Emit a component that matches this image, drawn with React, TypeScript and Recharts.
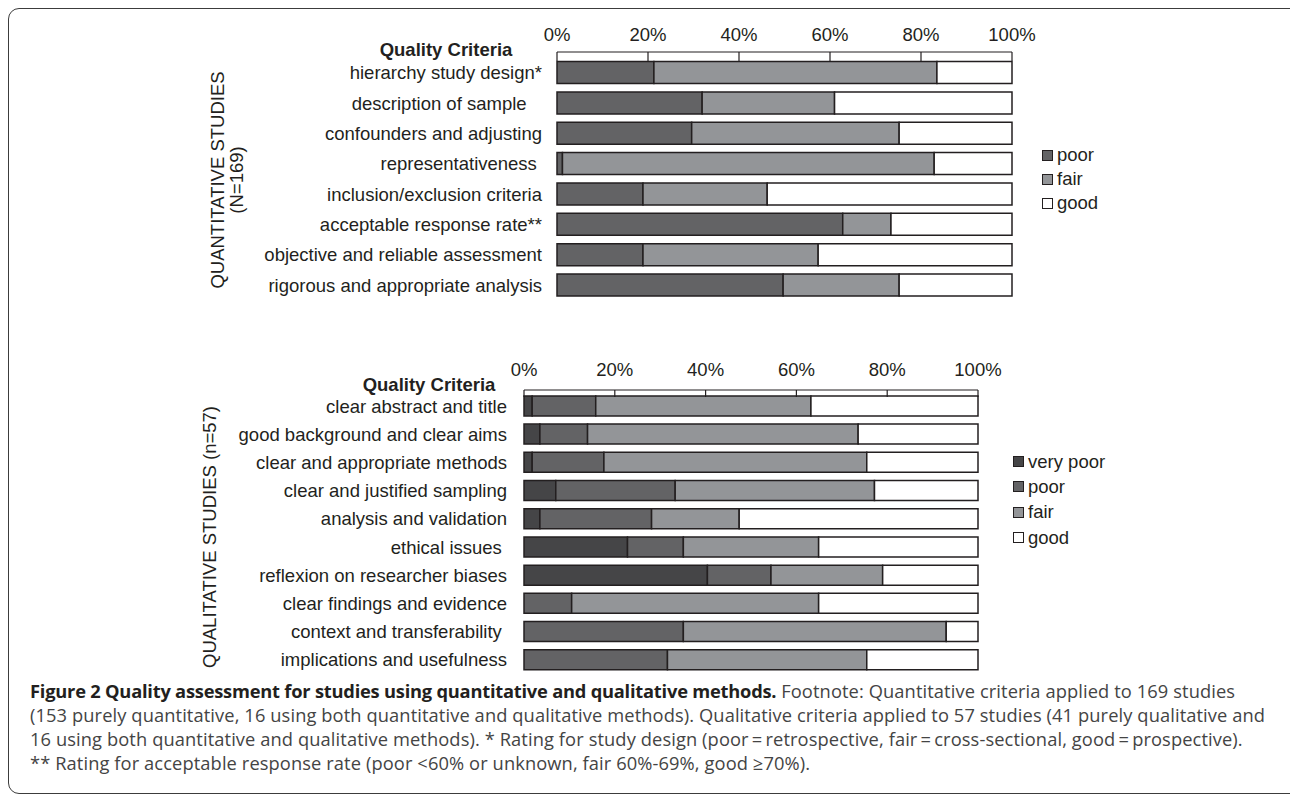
import { BarChart, Bar, XAxis, YAxis, Legend } from "recharts";

// colours
const VERY_POOR = "#454547";
const POOR = "#636365";
const FAIR = "#939598";
const GOOD = "#ffffff";
const INK = "#231f20";
const CHART_FONT = '"Liberation Sans", Arial, sans-serif';
const CAPTION_FONT = '"Open Sans", "Noto Sans", sans-serif';

// quantitative studies (N=169), % of studies
const quantCriteria = [
  "hierarchy study design*",
  "description of sample\u00a0\u00a0\u00a0",
  "confounders and adjusting",
  "representativeness\u00a0",
  "inclusion/exclusion criteria",
  "acceptable response rate**",
  "objective and reliable assessment",
  "rigorous and appropriate analysis",
];
const quantPoor = [21.3, 31.9, 29.6, 1.2, 18.9, 62.8, 18.9, 49.7];
const quantFair = [62.2, 29.1, 45.6, 81.7, 27.3, 10.6, 38.5, 25.5];
const quantGood = [16.5, 39.0, 24.8, 17.1, 53.8, 26.6, 42.6, 24.8];

// qualitative studies (n=57), % of studies
const qualCriteria = [
  "clear abstract and title",
  "good background and clear aims",
  "clear and appropriate methods",
  "clear and justified sampling",
  "analysis and validation",
  "ethical issues\u00a0",
  "reflexion on researcher biases",
  "clear findings and evidence",
  "context and transferability\u00a0",
  "implications and usefulness",
];
const qualVeryPoor = [1.8, 3.5, 1.8, 7.0, 3.5, 22.8, 40.4, 0, 0, 0];
const qualPoor = [14.0, 10.5, 15.8, 26.3, 24.6, 12.3, 14.0, 10.5, 35.1, 31.6];
const qualFair = [47.4, 59.6, 57.9, 43.9, 19.3, 29.8, 24.6, 54.4, 57.9, 43.9];
const qualGood = [36.8, 26.4, 24.5, 22.8, 52.6, 35.1, 21.0, 35.1, 7.0, 24.5];

const pctTicks = [0, 20, 40, 60, 80, 100];

const quantSeries = [
  { key: "poor", label: "poor", color: POOR },
  { key: "fair", label: "fair", color: FAIR },
  { key: "good", label: "good", color: GOOD },
];
const qualSeries = [
  { key: "veryPoor", label: "very poor", color: VERY_POOR },
  { key: "poor", label: "poor", color: POOR },
  { key: "fair", label: "fair", color: FAIR },
  { key: "good", label: "good", color: GOOD },
];

const captionTitle = "Figure 2 Quality assessment for studies using quantitative and qualitative methods.";
const captionLines = [
  " Footnote: Quantitative criteria applied to 169 studies",
  "(153 purely quantitative, 16 using both quantitative and qualitative methods). Qualitative criteria applied to 57 studies (41 purely qualitative and",
  "16 using both quantitative and qualitative methods). * Rating for study design (poor\u2009=\u2009retrospective, fair\u2009=\u2009cross-sectional, good\u2009=\u2009prospective).",
  "** Rating for acceptable response rate (poor <60% or unknown, fair 60%-69%, good \u226570%).",
];

const quantData = quantCriteria.map((name, i) => ({
  name,
  poor: quantPoor[i],
  fair: quantFair[i],
  good: quantGood[i],
}));

const qualData = qualCriteria.map((name, i) => ({
  name,
  veryPoor: qualVeryPoor[i],
  poor: qualPoor[i],
  fair: qualFair[i],
  good: qualGood[i],
}));

function SwatchLegend({ items, rowHeight }: { items: typeof qualSeries; rowHeight: number }) {
  return (
    <div style={{ fontFamily: CHART_FONT, fontSize: 18.5, color: INK }}>
      {items.map((it) => (
        <div
          key={it.key}
          style={{ height: rowHeight, display: "flex", alignItems: "center", whiteSpace: "nowrap" }}
        >
          <span
            style={{
              display: "inline-block",
              width: 9,
              height: 9,
              background: it.color,
              border: `1px solid ${INK}`,
              marginRight: 4,
            }}
          />
          {it.label}
        </div>
      ))}
    </div>
  );
}

const tickStyle = { fill: INK, fontSize: 18.5, fontFamily: CHART_FONT };

export default function App() {
  return (
    <div
      style={{
        position: "absolute",
        left: 0,
        top: 0,
        width: 1290,
        height: 795,
        overflow: "hidden",
        background: "#fff",
        fontFamily: CHART_FONT,
        color: INK,
      }}
    >
      {/* rounded frame */}
      <div
        style={{
          position: "absolute",
          left: 8,
          top: 8,
          width: 1300,
          height: 786,
          border: "1.5px solid #3c3c3c",
          borderRadius: 11,
          boxSizing: "border-box",
        }}
      />

      {/* quantitative chart */}
      <div style={{ position: "absolute", left: 0, top: 0 }}>
        <BarChart
          width={1290}
          height={306}
          data={quantData}
          layout="vertical"
          margin={{ top: 22, right: 278, bottom: 5.7, left: 157 }}
        >
          <XAxis
            type="number"
            orientation="top"
            domain={[0, 100]}
            ticks={pctTicks}
            tickFormatter={(v) => `${v}%`}
            height={30}
            tickSize={-9}
            tickMargin={20}
            tick={tickStyle}
            axisLine={{ stroke: INK, strokeWidth: 1.2 }}
            tickLine={{ stroke: INK, strokeWidth: 1.2 }}
          />
          <YAxis
            type="category"
            dataKey="name"
            width={400}
            tickSize={0}
            tickMargin={15}
            axisLine={false}
            tickLine={false}
            padding={{ top: 5.6, bottom: 0 }}
            tick={{ ...tickStyle, style: { whiteSpace: "pre" } }}
            interval={0}
          />
          {quantSeries.map((s) => (
            <Bar
              key={s.key}
              dataKey={s.key}
              name={s.label}
              stackId="q"
              fill={s.color}
              stroke={INK}
              strokeWidth={1.5}
              barSize={22}
              isAnimationActive={false}
            />
          ))}
          <Legend
            layout="vertical"
            align="center"
            verticalAlign="middle"
            content={() => <SwatchLegend items={quantSeries} rowHeight={24} />}
            wrapperStyle={{ left: 1042, top: 143, width: 120 }}
          />
        </BarChart>
      </div>

      {/* qualitative chart */}
      <div style={{ position: "absolute", left: 0, top: 340 }}>
        <BarChart
          width={1290}
          height={338}
          data={qualData}
          layout="vertical"
          margin={{ top: 20, right: 312, bottom: 4, left: 124 }}
        >
          <XAxis
            type="number"
            orientation="top"
            domain={[0, 100]}
            ticks={pctTicks}
            tickFormatter={(v) => `${v}%`}
            height={30}
            tickSize={-7}
            tickMargin={21}
            tick={tickStyle}
            axisLine={{ stroke: INK, strokeWidth: 1.2 }}
            tickLine={{ stroke: INK, strokeWidth: 1.2 }}
          />
          <YAxis
            type="category"
            dataKey="name"
            width={400}
            tickSize={0}
            tickMargin={17}
            axisLine={false}
            tickLine={false}
            padding={{ top: 1.9, bottom: 0 }}
            tick={{ ...tickStyle, style: { whiteSpace: "pre" } }}
            interval={0}
          />
          {qualSeries.map((s) => (
            <Bar
              key={s.key}
              dataKey={s.key}
              name={s.label}
              stackId="l"
              fill={s.color}
              stroke={INK}
              strokeWidth={1.5}
              barSize={20}
              isAnimationActive={false}
            />
          ))}
          <Legend
            layout="vertical"
            align="center"
            verticalAlign="middle"
            content={() => <SwatchLegend items={qualSeries} rowHeight={25.3} />}
            wrapperStyle={{ left: 1013, top: 109, width: 140 }}
          />
        </BarChart>
      </div>

      {/* headings */}
      <div
        style={{
          position: "absolute",
          left: 446,
          top: 50,
          transform: "translate(-50%, -50%)",
          fontWeight: "bold",
          fontSize: 18.5,
          whiteSpace: "nowrap",
        }}
      >
        Quality Criteria
      </div>
      <div
        style={{
          position: "absolute",
          left: 429,
          top: 385,
          transform: "translate(-50%, -50%)",
          fontWeight: "bold",
          fontSize: 18.5,
          whiteSpace: "nowrap",
        }}
      >
        Quality Criteria
      </div>
      <div
        style={{
          position: "absolute",
          left: 227,
          top: 180,
          transform: "translate(-50%, -50%) rotate(-90deg)",
          fontSize: 18.5,
          lineHeight: "19px",
          textAlign: "center",
          whiteSpace: "nowrap",
        }}
      >
        QUANTITATIVE STUDIES
        <br />
        (N=169)
      </div>
      <div
        style={{
          position: "absolute",
          left: 210,
          top: 537,
          transform: "translate(-50%, -50%) rotate(-90deg)",
          fontSize: 18.5,
          whiteSpace: "nowrap",
        }}
      >
        QUALITATIVE STUDIES (n=57)
      </div>

      {/* caption */}
      <svg
        width={1290}
        height={795}
        style={{ position: "absolute", left: 0, top: 0, pointerEvents: "none" }}
      >
        <text
          x={30}
          y={698}
          fontFamily={CAPTION_FONT}
          fontSize={18.3}
          fill="#444"
          style={{ whiteSpace: "pre" }}
        >
          <tspan fontWeight="bold" fill={INK} letterSpacing={-0.22}>
            {captionTitle}
          </tspan>
          <tspan letterSpacing={0.1}>{captionLines[0]}</tspan>
        </text>
        {captionLines.slice(1).map((line, i) => (
          <text
            key={i}
            x={30}
            y={722 + i * 24}
            fontFamily={CAPTION_FONT}
            fontSize={18.3}
            fill="#444"
            letterSpacing={0.1}
          >
            {line}
          </text>
        ))}
      </svg>
    </div>
  );
}
